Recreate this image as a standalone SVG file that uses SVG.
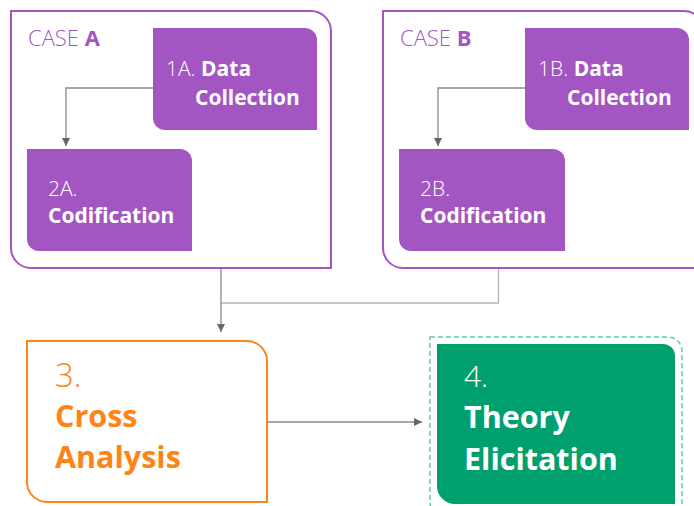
<svg xmlns="http://www.w3.org/2000/svg" width="694" height="506" viewBox="0 0 694 506">
  <defs>
    <marker id="arrow" viewBox="0 0 10 10" refX="10" refY="5" markerWidth="8" markerHeight="8" markerUnits="userSpaceOnUse" orient="auto">
      <path d="M0,0 L10,5 L0,10 Z" fill="#666666"/>
    </marker>
    <style>
      text { font-family: "Open Sans", "Noto Sans", "Liberation Sans", sans-serif; }
      .case { fill: #ffffff; stroke: #a356c2; stroke-width: 2; }
      .step { fill: #a356c2; }
      .caseLabel { fill: #a356c2; font-size: 22px; font-weight: 300; }
      .stepText { fill: #ffffff; font-size: 21px; font-weight: 300; }
      .b { font-weight: 700; }
      .lt { font-weight: 300; }
      .wire { fill: none; stroke: #8a8a8a; stroke-width: 1.3; }
      .wireLight { fill: none; stroke: #b4b4b4; stroke-width: 1.3; }
    </style>
  </defs>

  <!-- Case A container -->
  <g id="caseA">
    <path class="case" d="M11,11 H311 A20,20 0 0 1 331,31 V268 H31 A20,20 0 0 1 11,248 Z"/>
    <text class="caseLabel" x="28" y="46">CASE <tspan class="b">A</tspan></text>
  </g>

  <g id="step1A">
    <path class="step" d="M153,28 H305 A12,12 0 0 1 317,40 V130 H165 A12,12 0 0 1 153,118 Z"/>
    <text class="stepText" x="166" y="76">1A. <tspan class="b">Data</tspan></text>
    <text class="stepText b" x="195" y="105">Collection</text>
  </g>

  <g id="step2A">
    <path class="step" d="M27,149 H180 A12,12 0 0 1 192,161 V251 H39 A12,12 0 0 1 27,239 Z"/>
    <text class="stepText" x="48" y="196">2A.</text>
    <text class="stepText b" x="48" y="223">Codification</text>
  </g>

  <!-- Case B container -->
  <g id="caseB">
    <path class="case" d="M383,11 H684 A20,20 0 0 1 704,31 V268 H403 A20,20 0 0 1 383,248 Z"/>
    <text class="caseLabel" x="400" y="46">CASE <tspan class="b">B</tspan></text>
  </g>

  <g id="step1B">
    <path class="step" d="M525,28 H677 A12,12 0 0 1 689,40 V130 H537 A12,12 0 0 1 525,118 Z"/>
    <text class="stepText" x="538" y="76">1B. <tspan class="b">Data</tspan></text>
    <text class="stepText b" x="567" y="105">Collection</text>
  </g>

  <g id="step2B">
    <path class="step" d="M399,149 H553 A12,12 0 0 1 565,161 V251 H411 A12,12 0 0 1 399,239 Z"/>
    <text class="stepText" x="420" y="196">2B.</text>
    <text class="stepText b" x="420" y="223">Codification</text>
  </g>

  <!-- Step 3 -->
  <g id="step3">
    <path d="M27,341 H247 A20,20 0 0 1 267,361 V502 H47 A20,20 0 0 1 27,482 Z" fill="#ffffff" stroke="#ff8417" stroke-width="2"/>
    <text x="55" y="387" fill="#ff8417" font-size="33" class="lt">3.</text>
    <text x="55" y="427" fill="#ff8417" font-size="30.5" class="b">Cross</text>
    <text x="55" y="468" fill="#ff8417" font-size="30.5" class="b">Analysis</text>
  </g>

  <!-- Step 4 -->
  <g id="step4">
    <path d="M430,337 H668 A14,14 0 0 1 682,351 V522 H450 A20,20 0 0 1 430,502 Z" fill="none" stroke="#5fc9a6" stroke-width="1.5" stroke-dasharray="5 3"/>
    <path d="M437,344 H663 A12,12 0 0 1 675,356 V504 H455 A18,18 0 0 1 437,486 Z" fill="#00a06e"/>
    <text x="464" y="387" fill="#ffffff" font-size="30" class="lt">4.</text>
    <text x="464" y="428" fill="#ffffff" font-size="30.5" class="b">Theory</text>
    <text x="464" y="470" fill="#ffffff" font-size="30.5" class="b">Elicitation</text>
  </g>

  <!-- Connectors -->
  <g id="connectors">
    <path class="wire" d="M153,88 H66 V146" marker-end="url(#arrow)"/>
    <path class="wire" d="M525,88 H438 V146" marker-end="url(#arrow)"/>
    <path class="wireLight" d="M221,303 H498.5 V269"/>
    <path class="wire" d="M221,269 V332" marker-end="url(#arrow)"/>
    <path class="wire" d="M268,422 H422" marker-end="url(#arrow)"/>
  </g>
</svg>
